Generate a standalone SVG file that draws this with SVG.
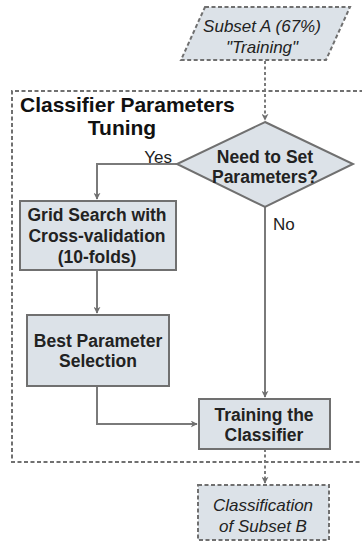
<svg xmlns="http://www.w3.org/2000/svg" width="362" height="542" viewBox="0 0 362 542">
  <defs>
    <style>
      .shape { fill: #dce2e8; stroke: #707070; stroke-width: 2; }
      .dashed { stroke-dasharray: 4 2.5; }
      .edge { fill: none; stroke: #7a7a7a; stroke-width: 2; }
      .dot { stroke-dasharray: 3 2.5; }
      .bold { font-family: "Liberation Sans", Arial, sans-serif; font-weight: bold; font-size: 17.5px; fill: #222; text-anchor: middle; }
      .ital { font-family: "Liberation Sans", Arial, sans-serif; font-style: italic; font-size: 17px; fill: #222; text-anchor: middle; }
      .lbl { font-family: "Liberation Sans", Arial, sans-serif; font-size: 17px; fill: #222; }
      .title { font-family: "Liberation Sans", Arial, sans-serif; font-weight: bold; font-size: 21px; fill: #111; }
    </style>
    <marker id="arrow" viewBox="0 0 10 10" refX="9" refY="5" markerWidth="7" markerHeight="7" markerUnits="userSpaceOnUse" orient="auto">
      <path d="M0,0 L10,5 L0,10 L3,5 Z" fill="#707070"/>
    </marker>
  </defs>

  <!-- tuning region -->
  <g id="tuning-region">
    <path d="M370,91 L12,91 L12,462 L370,462" fill="none" stroke="#707070" stroke-width="2" class="dashed"/>
    <text class="title" x="20" y="112">Classifier Parameters</text>
    <text class="title" x="122" y="135" text-anchor="middle">Tuning</text>
  </g>

  <g id="connectors">
    <path class="edge dot" d="M265,61 L265,120" marker-end="url(#arrow)"/>
    <path class="edge" d="M177,164 L97,164 L97,199" marker-end="url(#arrow)"/>
    <path class="edge" d="M97,270 L97,313" marker-end="url(#arrow)"/>
    <path class="edge" d="M265,207 L265,397" marker-end="url(#arrow)"/>
    <path class="edge" d="M97,386 L97,424 L197,424" marker-end="url(#arrow)"/>
    <path class="edge dot" d="M265,449 L265,483" marker-end="url(#arrow)"/>
    <text class="lbl" x="172" y="163" text-anchor="end">Yes</text>
    <text class="lbl" x="273" y="230">No</text>
  </g>

  <g id="subset-a">
    <polygon class="shape dashed" points="205,7 350,7 326,60 181,60"/>
    <text class="ital" x="262" y="32">Subset A (67%)</text>
    <text class="ital" x="262" y="53">"Training"</text>
  </g>

  <g id="need-params">
    <polygon class="shape" points="265,122 353,164 265,207 177,164"/>
    <text class="bold" x="265" y="163">Need to Set</text>
    <text class="bold" x="265" y="183">Parameters?</text>
  </g>

  <g id="grid-search">
    <rect class="shape" x="20" y="201" width="156" height="69"/>
    <text class="bold" x="97" y="221">Grid Search with</text>
    <text class="bold" x="97" y="242">Cross-validation</text>
    <text class="bold" x="97" y="263">(10-folds)</text>
  </g>

  <g id="best-param">
    <rect class="shape" x="27" y="315" width="142" height="71"/>
    <text class="bold" x="98" y="347">Best Parameter</text>
    <text class="bold" x="98" y="367">Selection</text>
  </g>

  <g id="training">
    <rect class="shape" x="199" y="399" width="131" height="50"/>
    <text class="bold" x="264" y="421">Training the</text>
    <text class="bold" x="264" y="441">Classifier</text>
  </g>

  <g id="classification">
    <rect class="shape dashed" x="198" y="485" width="131" height="55"/>
    <text class="ital" x="263" y="511">Classification</text>
    <text class="ital" x="263" y="532">of Subset B</text>
  </g>
</svg>
